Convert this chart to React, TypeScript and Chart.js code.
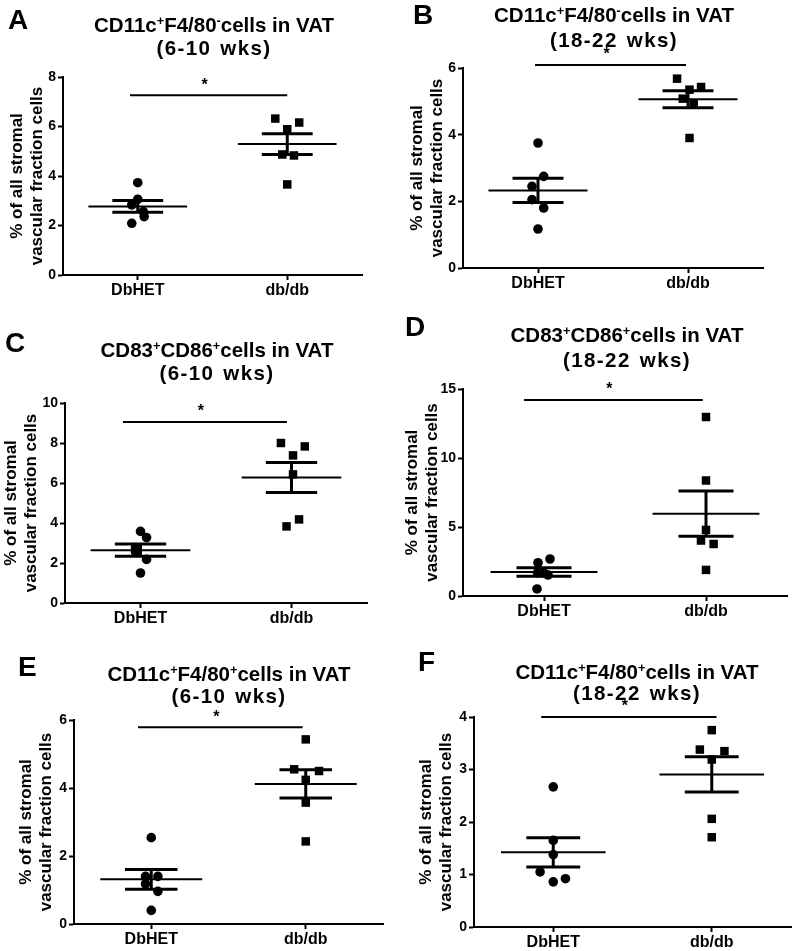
import React, { useEffect, useRef } from 'react';
import { Chart, registerables } from 'chart.js';

Chart.register(...registerables);

const FONT = '"Liberation Sans", Arial, Helvetica, sans-serif';

// ---------- text ----------
const groupLabels = ['DbHET', 'db/db'];
const panelLetters = ['A', 'B', 'C', 'D', 'E', 'F'];
// [text, superscript, text, superscript, text]
const titleMarkers = [
  ['CD11c', '+', 'F4/80', '-', 'cells in VAT'],
  ['CD11c', '+', 'F4/80', '-', 'cells in VAT'],
  ['CD83', '+', 'CD86', '+', 'cells in VAT'],
  ['CD83', '+', 'CD86', '+', 'cells in VAT'],
  ['CD11c', '+', 'F4/80', '+', 'cells in VAT'],
  ['CD11c', '+', 'F4/80', '+', 'cells in VAT'],
];
const titleAges = ['(6-10 wks)', '(18-22 wks)', '(6-10 wks)', '(18-22 wks)', '(6-10 wks)', '(18-22 wks)'];
const yAxisTitle = ['% of all stromal', 'vascular fraction cells'];
const sigMark = '*';

// ---------- data (% of all stromal vascular fraction cells) ----------
const hetA = [3.73, 3.06, 2.83, 2.56, 2.36, 2.09];
const dbA = [6.32, 6.16, 5.89, 4.87, 4.83, 3.66];
const hetB = [3.75, 2.75, 2.45, 2.05, 1.80, 1.17];
const dbB = [5.68, 5.43, 5.35, 5.08, 4.93, 3.90];
const hetC = [3.58, 3.27, 2.77, 2.55, 2.18, 1.50];
const dbC = [8.00, 7.83, 7.38, 6.43, 4.18, 3.83];
const hetD = [2.68, 2.41, 1.67, 1.65, 1.52, 0.51];
const dbD = [12.97, 8.37, 4.79, 4.02, 3.77, 1.89];
const hetE = [2.54, 1.40, 1.40, 1.18, 0.96, 0.40];
const dbE = [5.43, 4.55, 4.50, 4.24, 3.57, 2.43];
const hetF = [2.67, 1.65, 1.38, 1.05, 0.92, 0.86];
const dbF = [3.75, 3.38, 3.35, 3.19, 2.06, 1.71];

// horizontal scatter of the dots around each group (category units)
const hetJitterA = [0, 0, -0.04, 0.037, 0.043, -0.04];
const dbJitterA = [-0.08, 0.08, 0, -0.033, 0.045, 0];
const hetJitterB = [0, 0.038, -0.04, -0.04, 0.038, 0];
const dbJitterB = [-0.073, 0.087, 0.01, -0.035, 0.038, 0.01];
const hetJitterC = [0, 0.04, -0.033, -0.033, 0.04, 0];
const dbJitterC = [-0.07, 0.088, 0.01, 0.01, 0.05, -0.033];
const hetJitterD = [0.037, -0.037, -0.04, 0, 0.025, -0.043];
const dbJitterD = [0, 0, 0, -0.031, 0.047, 0];
const hetJitterE = [0, -0.037, 0.043, -0.037, 0.043, 0];
const dbJitterE = [0, -0.075, 0.086, 0, 0, 0];
const hetJitterF = [0, 0, 0, -0.083, 0.077, 0];
const dbJitterF = [0, -0.075, 0.08, 0, 0, 0];

const yMaxes = [8, 6, 10, 15, 6, 4];
const yStepSizes = [2, 2, 2, 5, 2, 1];

// significance bars
const sigLevels = [7.26, 6.09, 9.05, 14.2, 5.79, 4.0];
const sigStarts = [0.948, 0.98, 0.884, 0.877, 0.914, 0.924];
const sigEnds = [2.0, 1.987, 1.97, 1.98, 1.98, 2.03];

const hetValues = [hetA, hetB, hetC, hetD, hetE, hetF];
const dbValues = [dbA, dbB, dbC, dbD, dbE, dbF];
const hetJitters = [hetJitterA, hetJitterB, hetJitterC, hetJitterD, hetJitterE, hetJitterF];
const dbJitters = [dbJitterA, dbJitterB, dbJitterC, dbJitterD, dbJitterE, dbJitterF];

// ---------- layout (page pixels) ----------
const LAYOUT = [
  { x0: 0, w: 400, left: 63, right: 362, top: 77, bottom: 275, yTitle: 17, titleCx: 214, titleC1: 25, titleGap: 20, letterX: 8, letterCap: 10 },
  { x0: 400, w: 397, left: 463, right: 763, top: 68, bottom: 268, yTitle: 17, titleCx: 614, titleC1: 15, titleGap: 22, letterX: 413, letterCap: 5 },
  { x0: 0, w: 400, left: 65, right: 367, top: 403, bottom: 603, yTitle: 11, titleCx: 217, titleC1: 350, titleGap: 20, letterX: 5, letterCap: 333 },
  { x0: 400, w: 397, left: 463, right: 787, top: 389, bottom: 596, yTitle: 12, titleCx: 627, titleC1: 335, titleGap: 22, letterX: 405, letterCap: 317 },
  { x0: 0, w: 400, left: 74, right: 383, top: 720, bottom: 924, yTitle: 26, titleCx: 229, titleC1: 673, titleGap: 19, letterX: 18, letterCap: 657 },
  { x0: 400, w: 397, left: 474, right: 795, top: 717, bottom: 927, yTitle: 26, titleCx: 637, titleC1: 672, titleGap: 18, letterX: 418, letterCap: 652 },
];

const MEAN_HALF = 0.33;
const SEM_HALF = 0.17;

function meanSem(v: number[]) {
  const n = v.length;
  const m = v.reduce((a, b) => a + b, 0) / n;
  const sd = Math.sqrt(v.reduce((a, b) => a + (b - m) * (b - m), 0) / (n - 1));
  return { m, sem: sd / Math.sqrt(n) };
}

function segment(x1: number, y1: number, x2: number, y2: number, width: number) {
  return {
    type: 'scatter' as const,
    data: [{ x: x1, y: y1 }, { x: x2, y: y2 }],
    showLine: true,
    borderColor: '#000',
    borderWidth: width,
    pointRadius: 0,
    pointHoverRadius: 0,
    clip: false as any,
  };
}

function groupSegments(values: number[], center: number) {
  const { m, sem } = meanSem(values);
  return [
    segment(center - MEAN_HALF, m, center + MEAN_HALF, m, 2),
    segment(center - SEM_HALF, m + sem, center + SEM_HALF, m + sem, 3),
    segment(center - SEM_HALF, m - sem, center + SEM_HALF, m - sem, 3),
    segment(center, m - sem, center, m + sem, 3),
  ];
}

function Panel({ i }: { i: number }) {
  const ref = useRef<HTMLCanvasElement>(null);
  const L = LAYOUT[i];
  const PAD_TOP = 35;
  const X_H = i >= 4 ? 24 : 30;
  const canvasTop = L.top - PAD_TOP;
  const canvasH = L.bottom - L.top + PAD_TOP + X_H;
  const yFontLH = 17 * 1.2;

  useEffect(() => {
    if (!ref.current) return;
    const het = hetValues[i];
    const db = dbValues[i];
    const starPlugin = {
      id: 'sigStar' + i,
      afterDatasetsDraw(chart: any) {
        const ctx = chart.ctx;
        const xs = chart.scales.x;
        const ys = chart.scales.y;
        const px = xs.getPixelForValue((sigStarts[i] + sigEnds[i]) / 2) - 4;
        const py = ys.getPixelForValue(sigLevels[i]) - 10;
        ctx.save();
        ctx.fillStyle = '#000';
        ctx.font = `bold 16px ${FONT}`;
        ctx.textAlign = 'center';
        ctx.textBaseline = 'middle';
        ctx.fillText(sigMark, px, py);
        ctx.restore();
      },
    };
    const chart = new Chart(ref.current, {
      type: 'scatter',
      data: {
        datasets: [
          ...groupSegments(het, 1),
          ...groupSegments(db, 2),
          segment(sigStarts[i], sigLevels[i], sigEnds[i], sigLevels[i], 2),
          {
            type: 'scatter',
            data: het.map((y, k) => ({ x: 1 + hetJitters[i][k], y })),
            pointStyle: 'circle',
            pointRadius: 4.8,
            backgroundColor: '#000',
            borderColor: '#000',
            borderWidth: 0,
            clip: false as any,
          },
          {
            type: 'scatter',
            data: db.map((y, k) => ({ x: 2 + dbJitters[i][k], y })),
            pointStyle: 'rect',
            pointRadius: 6,
            backgroundColor: '#000',
            borderColor: '#000',
            borderWidth: 0,
            clip: false as any,
          },
        ] as any,
      },
      options: {
        responsive: false,
        animation: false,
        events: [],
        layout: { padding: { left: 0, top: PAD_TOP, right: L.x0 + L.w - L.right, bottom: 0 } },
        plugins: { legend: { display: false }, tooltip: { enabled: false }, title: { display: false } },
        scales: {
          x: {
            type: 'linear',
            min: 0.5,
            max: 2.5,
            afterBuildTicks: (scale: any) => {
              scale.ticks = [{ value: 1 }, { value: 2 }];
            },
            afterFit: (scale: any) => {
              scale.height = X_H;
            },
            ticks: {
              callback: (v: any) => groupLabels[Math.round(Number(v)) - 1],
              color: '#000',
              font: { family: FONT, size: 16, weight: 'bold' },
              padding: 1,
              maxRotation: 0,
            },
            grid: { display: true, drawOnChartArea: false, drawTicks: true, tickLength: 5, tickWidth: 2, tickColor: '#000' },
            border: { display: true, color: '#000', width: 2 },
          },
          y: {
            type: 'linear',
            min: 0,
            max: yMaxes[i],
            afterFit: (scale: any) => {
              scale.width = L.left - L.x0;
            },
            ticks: {
              stepSize: yStepSizes[i],
              color: '#000',
              font: { family: FONT, size: 14, weight: 'bold' },
              padding: 2,
            },
            grid: { display: true, drawOnChartArea: false, drawTicks: true, tickLength: 5, tickWidth: 2, tickColor: '#000' },
            border: { display: true, color: '#000', width: 2 },
            title: {
              display: true,
              text: yAxisTitle,
              color: '#000',
              font: { family: FONT, size: 17, weight: 'bold', lineHeight: 1.2 },
              padding: { top: L.yTitle - yFontLH / 2, bottom: 0 },
            },
          },
        },
      } as any,
      plugins: [starPlugin],
    });
    return () => chart.destroy();
  }, [i]);

  const parts = titleMarkers[i];
  const supStyle: React.CSSProperties = { fontSize: '0.62em', position: 'relative', top: '-0.55em' };

  return (
    <>
      <canvas
        ref={ref}
        width={L.w}
        height={canvasH}
        style={{ position: 'absolute', left: L.x0, top: canvasTop, width: L.w, height: canvasH, display: 'block' }}
      />
      <div
        style={{
          position: 'absolute',
          left: L.titleCx - 200,
          width: 400,
          top: L.titleC1 - L.titleGap / 2,
          lineHeight: `${L.titleGap}px`,
          fontSize: 20.5,
          fontWeight: 'bold',
          fontFamily: FONT,
          textAlign: 'center',
          whiteSpace: 'nowrap',
          color: '#000',
        }}
      >
        <div>
          {parts[0]}
          <span style={supStyle}>{parts[1]}</span>
          {parts[2]}
          <span style={supStyle}>{parts[3]}</span>
          {parts[4]}
        </div>
        <div style={{ letterSpacing: '1.4px', wordSpacing: '2px' }}>{titleAges[i]}</div>
      </div>
      <div
        style={{
          position: 'absolute',
          left: L.letterX,
          top: L.letterCap - 3.7,
          fontSize: 28,
          lineHeight: '28px',
          fontWeight: 'bold',
          fontFamily: FONT,
          color: '#000',
        }}
      >
        {panelLetters[i]}
      </div>
    </>
  );
}

export default function App() {
  return (
    <div
      style={{
        position: 'absolute',
        left: 0,
        top: 0,
        width: 797,
        height: 951,
        overflow: 'hidden',
        background: '#fff',
      }}
    >
      {[0, 1, 2, 3, 4, 5].map((i) => (
        <Panel key={i} i={i} />
      ))}
    </div>
  );
}
